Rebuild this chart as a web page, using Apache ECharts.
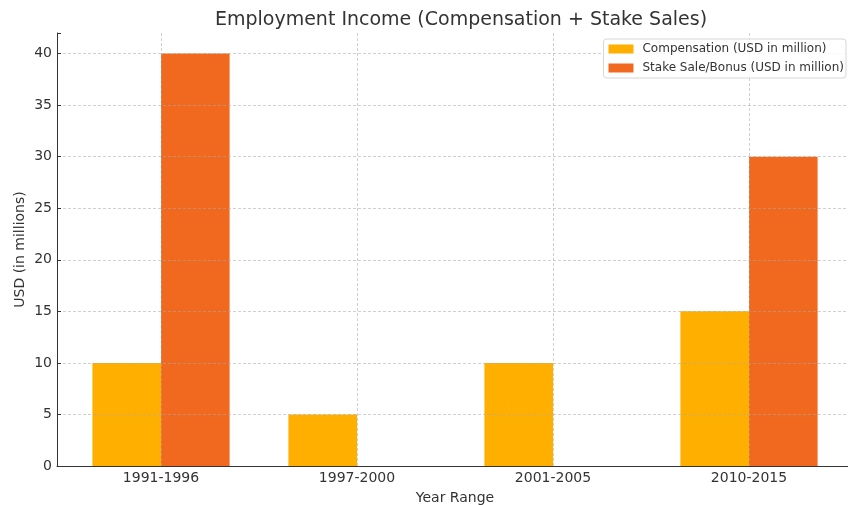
<!DOCTYPE html>
<html>
<head>
<meta charset="utf-8">
<script src="https://cdn.jsdelivr.net/npm/echarts@6/dist/echarts.min.js"></script>
<style>
  html, body { margin: 0; padding: 0; background: #fff; }
  #main { width: 848px; height: 505px; }
</style>
</head>
<body>
<div id="main"></div>
<script>
var yearRanges = ['1991-1996', '1997-2000', '2001-2005', '2010-2015'];
var compensation = [10, 5, 10, 15];
var stakeSales = [40, 0, 0, 30];
var yTicks = [0, 5, 10, 15, 20, 25, 30, 35, 40];

var fontName = 'DejaVu Sans';
var gridLine = { type: [3, 2], color: 'rgba(170,170,170,0.55)', width: 1 };

var chart = echarts.init(document.getElementById('main'));
var option = {
    animation: false,
    textStyle: { fontFamily: fontName },
    title: {
        text: 'Employment Income (Compensation + Stake Sales)',
        left: 456,
        textAlign: 'center',
        top: 6,
        textStyle: { fontFamily: fontName, fontSize: 19, fontWeight: 'normal', color: '#333' }
    },
    legend: {
        orient: 'vertical',
        right: 2,
        top: 39,
        padding: [4, 2, 4, 5],
        icon: 'rect',
        itemWidth: 25,
        itemHeight: 9,
        itemGap: 7,
        borderColor: '#d6d6d6',
        borderWidth: 1,
        borderRadius: 3,
        backgroundColor: 'rgba(255,255,255,0.85)',
        textStyle: { fontFamily: fontName, fontSize: 12, color: '#333', padding: [0, 0, 0, 4] },
        data: ['Compensation (USD in million)', 'Stake Sale/Bonus (USD in million)']
    },
    grid: [
        { left: 63, right: 1, top: 33, bottom: 39, outerBoundsMode: 'none' },
        { left: 57, right: 0, top: 33, bottom: 39, outerBoundsMode: 'none' }
    ],
    xAxis: [{
        type: 'category',
        gridIndex: 0,
        data: yearRanges,
        name: 'Year Range',
        nameLocation: 'middle',
        nameGap: 25,
        nameMoveOverlap: false,
        nameTextStyle: { fontFamily: fontName, fontSize: 14, color: '#333' },
        axisLine: { lineStyle: { color: '#333', width: 1 } },
        axisTick: { alignWithLabel: true, inside: true, length: 4, lineStyle: { color: '#333' } },
        axisLabel: { fontFamily: fontName, fontSize: 14, color: '#333', margin: 5 },
        splitLine: { show: true, alignWithLabel: true, lineStyle: gridLine },
        z: 3
    }, {
        type: 'value',
        gridIndex: 1,
        min: 0,
        max: 1,
        axisLine: { show: true, onZero: false, lineStyle: { color: '#333', width: 1 } },
        axisTick: { show: false },
        axisLabel: { show: false },
        splitLine: { show: false }
    }],
    yAxis: [{
        type: 'value',
        gridIndex: 0,
        min: 0,
        max: 42,
        interval: 5,
        offset: 6,
        name: 'USD (in millions)',
        nameLocation: 'middle',
        nameGap: 30,
        nameMoveOverlap: false,
        nameTextStyle: { fontFamily: fontName, fontSize: 14, color: '#333' },
        axisLine: { show: true, lineStyle: { color: '#333', width: 1 } },
        axisTick: { show: true, inside: true, length: 4, lineStyle: { color: '#333' } },
        axisLabel: {
            fontFamily: fontName, fontSize: 14, color: '#333', margin: 5,
            formatter: function (v) { return yTicks.indexOf(v) >= 0 ? String(v) : ''; }
        },
        splitLine: { show: true, showMinLine: false, showMaxLine: false, lineStyle: gridLine },
        z: 3
    }, {
        type: 'value',
        gridIndex: 1,
        show: false
    }],
    series: [{
        name: 'Compensation (USD in million)',
        type: 'bar',
        barWidth: '35%',
        barGap: '0%',
        itemStyle: { color: '#FFAF00' },
        data: compensation
    }, {
        name: 'Stake Sale/Bonus (USD in million)',
        type: 'bar',
        barWidth: '35%',
        barGap: '0%',
        itemStyle: { color: '#F0691F' },
        data: stakeSales
    }]
};
chart.setOption(option);
</script>
</body>
</html>
